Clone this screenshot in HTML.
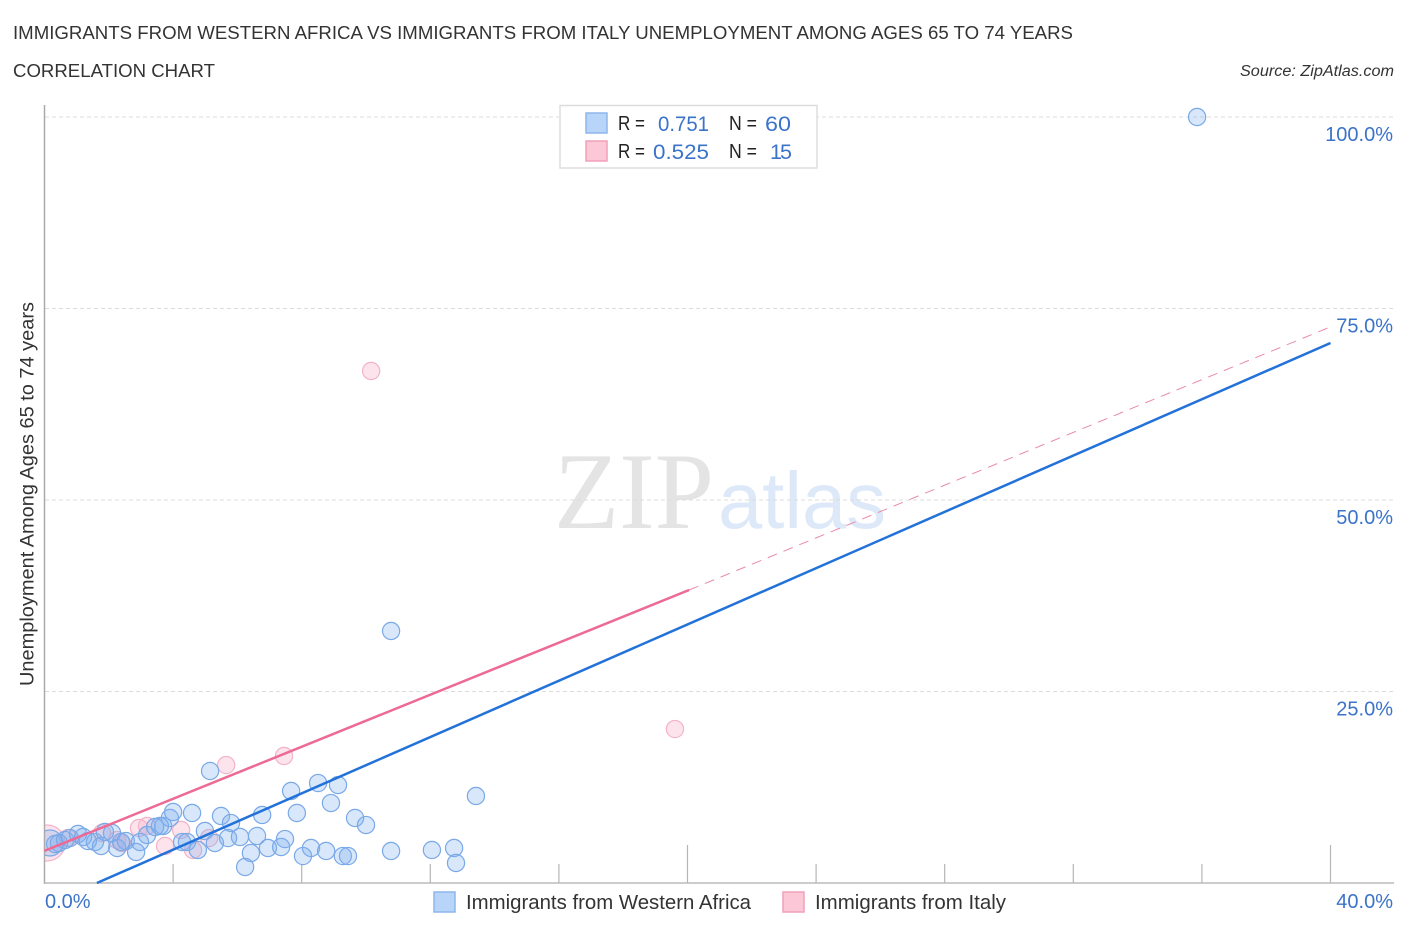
<!DOCTYPE html>
<html lang="en">
<head>
<meta charset="utf-8">
<title>Immigrants from Western Africa vs Immigrants from Italy Unemployment Correlation Chart</title>
<style>
html,body{margin:0;padding:0;background:#fff;}
svg{display:block;font-family:"Liberation Sans",sans-serif;}
</style>
</head>
<body>
<svg id="chart" xmlns="http://www.w3.org/2000/svg" width="1406" height="930" viewBox="0 0 1406 930">
  <defs><clipPath id="plot-clip"><rect x="45" y="100" width="1350" height="783"/></clipPath></defs>
  <text x="13" y="39" font-size="18.5" fill="#333" textLength="1060" lengthAdjust="spacingAndGlyphs">IMMIGRANTS FROM WESTERN AFRICA VS IMMIGRANTS FROM ITALY UNEMPLOYMENT AMONG AGES 65 TO 74 YEARS</text>
  <text x="13" y="77" font-size="18.5" fill="#333" textLength="202" lengthAdjust="spacingAndGlyphs">CORRELATION CHART</text>
  <text x="1394" y="76" font-size="15.5" font-style="italic" fill="#333" text-anchor="end" textLength="154" lengthAdjust="spacingAndGlyphs">Source: ZipAtlas.com</text>

  <g>
    <text x="554" y="528" font-family="'Liberation Serif',serif" font-size="109" fill="#e4e4e4" textLength="160" lengthAdjust="spacingAndGlyphs">ZIP</text>
    <text x="718" y="528" font-size="80" fill="#dde9f9" textLength="168" lengthAdjust="spacingAndGlyphs">atlas</text>
  </g>

  <g id="grid"></g>
  <g id="axes"></g>
  <g id="points-pink" clip-path="url(#plot-clip)"></g>
  <g id="points-blue" clip-path="url(#plot-clip)"></g>
  <g id="trends"></g>
  <g id="tick-labels"></g>

  <text transform="translate(33.500,494) rotate(-90)" font-size="19" fill="#333" text-anchor="middle" textLength="384" lengthAdjust="spacingAndGlyphs">Unemployment Among Ages 65 to 74 years</text>

  <g>
    <rect x="560" y="105.500" width="257" height="62.500" fill="#fff" stroke="#ddd" stroke-width="1.500"/>
    <rect x="586" y="113" width="21" height="20" fill="#b9d4f9" stroke="#8db6ec" stroke-width="1.500"/>
    <rect x="586" y="141" width="21" height="20" fill="#fcc7d7" stroke="#f0a0ba" stroke-width="1.500"/>
    <g font-size="20" fill="#222">
      <text x="618" y="130" textLength="27" lengthAdjust="spacingAndGlyphs">R =</text>
      <text x="729" y="130" textLength="28" lengthAdjust="spacingAndGlyphs">N =</text>
      <text x="618" y="158" textLength="27" lengthAdjust="spacingAndGlyphs">R =</text>
      <text x="729" y="158" textLength="28" lengthAdjust="spacingAndGlyphs">N =</text>
    </g>
    <g font-size="21.500" fill="#3b73c9">
      <text x="658" y="131" textLength="51" lengthAdjust="spacingAndGlyphs">0.751</text>
      <text x="765" y="131" textLength="26" lengthAdjust="spacingAndGlyphs">60</text>
      <text x="653" y="159" textLength="56" lengthAdjust="spacingAndGlyphs">0.525</text>
      <text x="770" y="159" textLength="22" lengthAdjust="spacing">15</text>
    </g>
  </g>

  <g>
    <rect x="434" y="892" width="21" height="20" fill="#b9d4f9" stroke="#8db6ec" stroke-width="1.500"/>
    <text x="466" y="909" font-size="20" fill="#333" textLength="285" lengthAdjust="spacingAndGlyphs">Immigrants from Western Africa</text>
    <rect x="783" y="892" width="21" height="20" fill="#fcc7d7" stroke="#f0a0ba" stroke-width="1.500"/>
    <text x="815" y="909" font-size="20" fill="#333" textLength="191" lengthAdjust="spacingAndGlyphs">Immigrants from Italy</text>
  </g>
</svg>
<script>
const blueX = [0.17,0.33,0.45,0.64,0.79,1.04,1.20,1.35,1.57,1.76,2.10,2.26,2.53,2.85,2.97,3.19,3.44,3.69,3.90,4.00,4.59,5.15,4.28,4.43,4.77,4.99,5.30,5.49,5.80,5.71,6.08,6.61,6.77,6.42,6.24,6.95,7.36,7.48,7.67,7.85,8.04,8.29,8.76,9.28,9.44,10.78,12.05,12.74,12.80,13.42,9.66,10.00,8.91,8.51,9.13,35.85,10.78,1.88,2.38,3.59];
const blueY = [5.22,5.09,5.22,5.61,5.87,6.40,6.01,5.48,5.35,4.83,6.53,4.57,5.48,4.05,5.35,6.27,7.31,7.44,8.49,9.27,9.14,14.62,5.35,5.35,4.31,6.79,5.22,8.75,7.83,5.87,6.01,6.14,8.88,3.92,2.09,4.57,4.70,5.74,12.01,9.14,3.52,4.57,4.18,3.52,3.52,4.18,4.31,4.57,2.61,11.36,8.49,7.57,10.44,13.05,12.79,100,32.90,6.66,5.35,7.44];
const pinkX = [0.08,0.73,1.79,2.26,2.94,3.19,3.75,4.25,4.62,5.12,5.65,7.45,10.16,19.61,2.41];
const pinkY = [5.22,5.87,6.53,5.61,7.18,7.44,4.83,6.92,4.31,5.87,15.40,16.58,66.84,20.10,5.22];
const blueTrendX = [1.63,40];
const blueTrendY = [0,70.5];
const pinkTrendX = [0,20.05];
const pinkTrendY = [4.2,38.25];
const pinkDashX = [20.05,40];
const pinkDashY = [38.25,72.6];
const xTickValues = [0,4,8,12,16,20,24,28,32,36,40];
const xMajorTicks = [20,40];
const gridValues = [25,50,75,100];
const yTickLabels = ['25.0%','50.0%','75.0%','100.0%'];

const NS = 'http://www.w3.org/2000/svg';
const xs = v => 44.5 + v * 32.15;
const ys = v => 883 - v * 7.66;

function make(parent, tag, attrs) {
  const el = document.createElementNS(NS, tag);
  for (const k in attrs) el.setAttribute(k, attrs[k]);
  document.getElementById(parent).appendChild(el);
  return el;
}

gridValues.forEach(function (v) {
  const el = make('grid', 'line', {x1: 45, x2: 1393, y1: ys(v), y2: ys(v), stroke: '#dcdcdc', 'stroke-width': 1, 'stroke-dasharray': '4 3'});
  
  
});

const yAxis = make('axes', 'line', {x1: 44.5, x2: 44.5, y1: 105, y2: 884, stroke: '#aaa', 'stroke-width': 1.5});


const xAxis = make('axes', 'line', {x1: 44, x2: 1394, y1: 883, y2: 883, stroke: '#bbb', 'stroke-width': 1.5});



xTickValues.slice(1).forEach(function (v) {
  const top = xMajorTicks.includes(v) ? 845 : 864;
  const el = make('axes', 'line', {x1: xs(v), x2: xs(v), y1: top, y2: 883, stroke: '#b5b5b5', 'stroke-width': 1.2});
  
  
});

pinkX.forEach(function (v, i) {
  const el = make('points-pink', 'circle', {cx: xs(v), cy: ys(pinkY[i]), r: i === 0 ? 18 : 8.6, fill: 'rgba(248,175,198,0.34)', stroke: '#f3b3c8', 'stroke-width': 1.2});
  
  
});
blueX.forEach(function (v, i) {
  const el = make('points-blue', 'circle', {cx: xs(v), cy: ys(blueY[i]), r: i === 0 ? 13 : 8.6, fill: 'rgba(125,175,240,0.3)', stroke: '#7aa9e8', 'stroke-width': 1.2});
  
  
});

const pinkDash = make('trends', 'line', {x1: xs(pinkDashX[0]), y1: ys(pinkDashY[0]), x2: xs(pinkDashX[1]), y2: ys(pinkDashY[1]), stroke: '#ea8aa8', 'stroke-width': 1, 'stroke-dasharray': '10 7'});


const pinkLine = make('trends', 'line', {x1: xs(pinkTrendX[0]), y1: ys(pinkTrendY[0]), x2: xs(pinkTrendX[1]), y2: ys(pinkTrendY[1]), stroke: '#ec6a94', 'stroke-width': 2.5});


const blueLine = make('trends', 'line', {x1: xs(blueTrendX[0]), y1: ys(blueTrendY[0]), x2: xs(blueTrendX[1]), y2: ys(blueTrendY[1]), stroke: '#2272d9', 'stroke-width': 2.5});



gridValues.forEach(function (v, i) {
  const el = make('tick-labels', 'text', {x: 1393, y: ys(v) + 24, 'font-size': 20, fill: '#3b73c9', 'text-anchor': 'end'});
  el.textContent = yTickLabels[i];
  
  
});
const xMin = make('tick-labels', 'text', {x: 45, y: 908, 'font-size': 20, fill: '#3b73c9'});
xMin.textContent = xTickValues[0].toFixed(1) + '%';


const xMax = make('tick-labels', 'text', {x: 1393, y: 908, 'font-size': 20, fill: '#3b73c9', 'text-anchor': 'end'});
xMax.textContent = xTickValues[xTickValues.length - 1].toFixed(1) + '%';


</script>
</body>
</html>
